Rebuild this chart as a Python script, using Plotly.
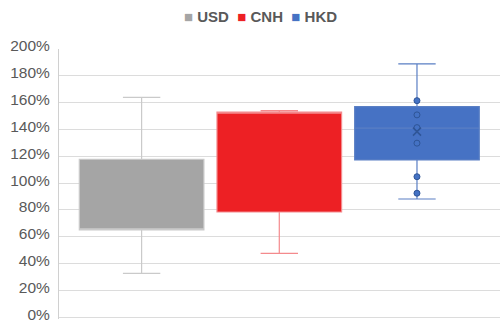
import plotly.graph_objects as go

# Currency series and their box-plot statistics (percent)
currencies = ["USD", "CNH", "HKD"]
q1_vals = [65.1, 78.5, 117.3]
median_vals = [65.1, 152.9, 141.0]
q3_vals = [117.8, 152.9, 157.0]
lower_whisker = [32.8, 47.7, 88.2]
upper_whisker = [164.0, 154.0, 188.9]

# Individual observations and mean shown for HKD
hkd_points = [161.5, 150.9, 141.4, 129.8, 104.8, 92.5]
hkd_mean = 138.4

fill_colors = ["#a5a5a5", "#ed2024", "#4672c4"]
line_colors = ["#cacaca", "#f48a8d", "#5a7fc4"]

y_ticks = list(range(0, 201, 20))
y_tick_labels = [f"{v}%" for v in y_ticks]

fig = go.Figure()

for i, name in enumerate(currencies):
    fig.add_trace(go.Box(
        x=[i], q1=[q1_vals[i]], median=[median_vals[i]], q3=[q3_vals[i]],
        lowerfence=[lower_whisker[i]], upperfence=[upper_whisker[i]],
        name=name, width=0.905, whiskerwidth=0.3,
        fillcolor=fill_colors[i],
        line=dict(color=line_colors[i], width=1.2),
        boxpoints=False, showlegend=False, hoverinfo="skip",
    ))

fig.add_trace(go.Scatter(
    x=[2] * len(hkd_points), y=hkd_points, mode="markers",
    marker=dict(symbol="circle", size=6, color="#4472c4",
                line=dict(color="#2f5597", width=1)),
    showlegend=False, hoverinfo="skip",
))
fig.add_trace(go.Scatter(
    x=[2], y=[hkd_mean], mode="markers",
    marker=dict(symbol="x-thin", size=8, color="#2f5597",
                line=dict(color="#2f5597", width=1.5)),
    showlegend=False, hoverinfo="skip",
))

# Compact legend row: coloured square swatches followed by series names
legend_text = "&nbsp;&nbsp;".join(
    f"<span style='color:{c}'>■</span> <b>{n}</b>"
    for c, n in zip(fill_colors, currencies)
)
fig.add_annotation(
    text=legend_text, xref="paper", yref="paper",
    x=(260.5 - 59) / 441, xanchor="center", y=1.122, yanchor="middle",
    showarrow=False, font=dict(size=15, color="#595959"),
)

fig.update_layout(
    width=502, height=324,
    margin=dict(l=59, r=2, t=49, b=5),
    paper_bgcolor="white", plot_bgcolor="white",
    font=dict(family="Liberation Sans, Arial, sans-serif", color="#595959"),
    showlegend=False,
    xaxis=dict(
        range=[-0.6, 2.603], showgrid=False, zeroline=False,
        showticklabels=False, showline=False, fixedrange=True,
    ),
    yaxis=dict(
        range=[-1.27, 200], tickvals=y_ticks, ticktext=y_tick_labels,
        showgrid=True, gridcolor="#dcdcdc", gridwidth=1,
        zeroline=True, zerolinecolor="#dcdcdc", zerolinewidth=1,
        showline=True, linecolor="#d0d0d0", linewidth=1,
        ticks="", ticklabelstandoff=5, automargin=False,
        ticklabeloverflow="allow", ticklabelshift=-3,
        tickfont=dict(size=15.5, color="#595959"),
    ),
)

fig.write_html("out.html")
